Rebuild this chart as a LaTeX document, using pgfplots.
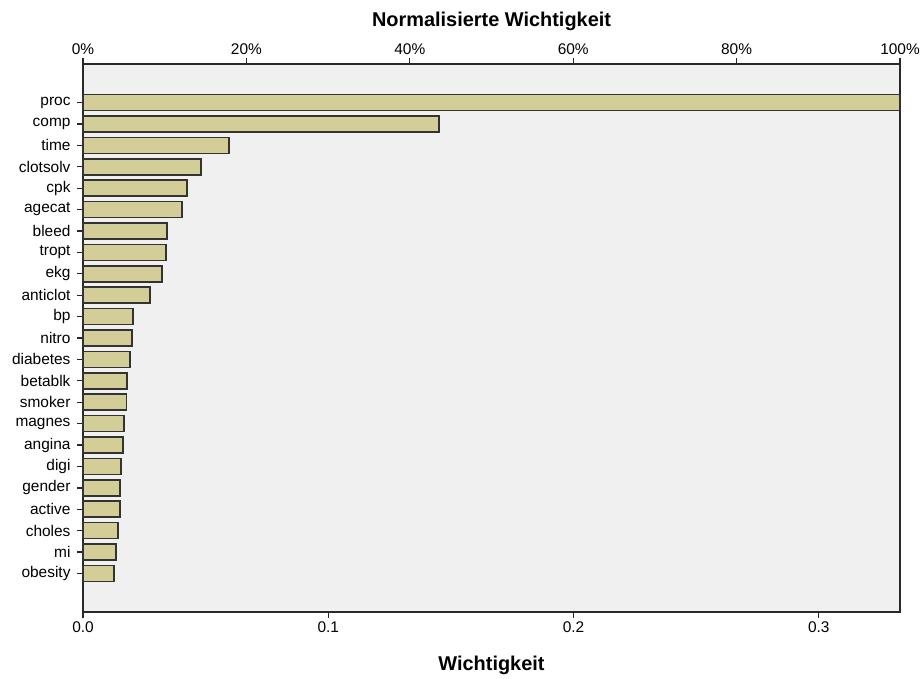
\documentclass[border=0pt]{standalone}
\usepackage{fontspec}
\setmainfont{Liberation Sans}
\usepackage{pgfplots}
\pgfplotsset{compat=1.18}
\definecolor{barfill}{RGB}{211,206,152}
\definecolor{bg}{RGB}{240,240,240}
\definecolor{axisgray}{RGB}{40,40,40}
\begin{document}
\begin{tikzpicture}
\path[use as bounding box] (-83bp,-67bp) rectangle (839bp,612bp);
\begin{axis}[
  at={(0,0)}, anchor=south west, scale only axis,
  width=817bp, height=548bp,
  xbar, bar width=0.75, y dir=reverse,
  xmin=0, xmax=0.3331, ymin=-0.8, ymax=24.8,
  ytick={1,...,23},
  yticklabels={proc,comp,time,clotsolv,cpk,agecat,bleed,tropt,ekg,anticlot,bp,nitro,diabetes,betablk,smoker,magnes,angina,digi,gender,active,choles,mi,obesity},
  xtick={0,0.1,0.2,0.3},
  xticklabel style={/pgf/number format/.cd, fixed, fixed zerofill, precision=1, assume math mode=true},
  tick label style={font=\fontsize{15.5}{17}\selectfont},
  yticklabel style={xshift=-3bp},
  tick align=outside, xtick pos=bottom, ytick pos=left, major tick length=6bp,
  every tick/.style={draw=axisgray, line width=1.3bp},
  axis background/.style={fill=bg},
  axis line style={axisgray, line width=1.2bp},
  xlabel={Wichtigkeit},
  xlabel style={at={(0.5,0)}, anchor=center, yshift=-53bp, font=\bfseries\fontsize{20}{22}\selectfont},
  clip=false,
]
\addplot[fill=barfill, draw=black!80, line width=1.6bp] coordinates {
(0.3331,1) (0.1451,2) (0.0595,3) (0.0481,4) (0.0424,5) (0.0404,6) (0.0342,7) (0.0338,8) (0.0322,9) (0.0273,10) (0.0204,11) (0.0200,12) (0.0192,13) (0.0179,14) (0.0177,15) (0.0167,16) (0.0163,17) (0.0155,18) (0.0151,19) (0.0151,20) (0.0143,21) (0.0135,22) (0.0126,23)
};
\end{axis}
\begin{axis}[
  at={(0,0)}, anchor=south west, scale only axis,
  width=817bp, height=548bp,
  xmin=0, xmax=100, ymin=0, ymax=1,
  axis x line*=top, axis y line=none,
  xtick={0,20,40,60,80,100},
  xticklabel={\pgfmathprintnumber{\tick}\%},
  xticklabel style={/pgf/number format/assume math mode=true, font=\fontsize{15.5}{17}\selectfont},
  tick align=outside, major tick length=6bp,
  every tick/.style={draw=axisgray, line width=1.3bp},
  axis line style={axisgray, line width=1.2bp},
  title={Normalisierte Wichtigkeit},
  title style={at={(0.5,1)}, anchor=center, yshift=37bp, font=\bfseries\fontsize{20}{22}\selectfont},
]
\end{axis}
\end{tikzpicture}
\end{document}
